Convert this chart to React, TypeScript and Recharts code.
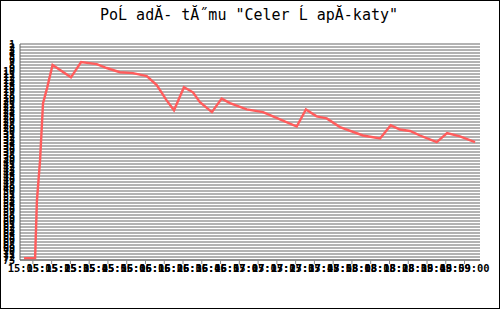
import React from "react";
import { LineChart, Line, XAxis, YAxis, CartesianGrid } from "recharts";

const title = 'PoĹ adĂ- tĂ˝mu "Celer Ĺ apĂ-katy"';

const tickLabels = [
  "15:05:15", "15:05:25", "15:05:35", "15:05:45", "15:05:55", "15:06:06",
  "15:06:16", "15:06:26", "15:06:36", "15:06:46", "15:06:57", "15:07:07",
  "15:07:17", "15:07:27", "15:07:37", "15:07:48", "15:07:58", "15:08:08",
  "15:08:18", "15:08:28", "15:08:39", "15:08:49", "15:08:59", "15:09:00",
];
const tickStart = 15;
const tickStep = 10.2;

// seconds after 15:05:00
const times = [
  10.2, 15.6, 16.2, 17.2, 18.9, 20.5, 22.7, 25.7, 35.7, 41.2, 49.7, 55.1, 62.3,
  69.4, 76.9, 82.3, 87.7, 91.7, 97.1, 102.0, 105.8, 112.3, 117.6, 122.1, 131.2,
  140.1, 149.3, 158.4, 163.4, 169.2, 174.7, 181.9, 194.4, 203.7, 209.5, 214.5,
  220.0, 225.4, 234.5, 240.1, 247.1, 255.3,
];
const ranks = [
  72.4, 72.4, 72.4, 53.2, 39.8, 20.8, 15.7, 8.0, 12.1, 7.0, 7.7, 9.0, 10.4,
  10.7, 11.7, 14.7, 19.8, 23.1, 15.4, 17.1, 20.4, 23.7, 19.2, 20.7, 22.8,
  23.7, 26.1, 28.5, 22.8, 25.1, 25.8, 28.7, 31.5, 32.5, 28.1, 29.5,
  30.0, 31.5, 33.7, 30.7, 31.8, 33.7,
];

const rankTicks = [
  1, 2, 3, 4, 5, 6, 7, 8, 9, 10, 11, 12, 13, 14, 15, 16, 17, 18, 19, 20, 21, 22,
  23, 24, 25, 26, 27, 28, 29, 30, 31, 32, 33, 34, 35, 36, 37, 38, 39, 40, 41, 42,
  43, 44, 45, 46, 47, 48, 49, 50, 51, 52, 53, 54, 55, 56, 57, 58, 59, 60, 61, 62,
  63, 64, 65, 66, 67, 68, 69, 70, 71, 72, 73,
];

const data = times.map((t, i) => ({ t, rank: ranks[i] }));
const xTicks = tickLabels.map((_, i) => tickStart + i * tickStep);

const mono = "'DejaVu Sans Mono', 'Liberation Mono', monospace";

const XTick = (props: any) => {
  const { x, payload } = props;
  const idx = Math.round((payload.value - tickStart) / tickStep);
  return (
    <text x={x} y={272} textAnchor="middle" fontFamily={mono} fontSize={10.43} fontWeight="bold" fill="#000">
      {tickLabels[idx]}
    </text>
  );
};

const YTick = (props: any) => {
  const { y, payload } = props;
  return (
    <text x={15} y={y + 4} textAnchor="end" fontFamily={mono} fontSize={10} fontWeight="bold" fill="#000">
      {payload.value}
    </text>
  );
};

export default function App() {
  return (
    <div style={{ position: "fixed", left: 0, top: 0, width: 500, height: 309, background: "#fff" }}>
      <LineChart width={500} height={309} data={data} margin={{ top: 44, right: 20, bottom: 29, left: 0 }}>
        <CartesianGrid horizontal={true} vertical={false} stroke="#666" strokeOpacity={1} />
        <XAxis
          type="number"
          dataKey="t"
          domain={[8, 258]}
          ticks={xTicks}
          interval={0}
          height={20}
          tick={<XTick />}
          tickSize={4}
          tickLine={{ stroke: "#888" }}
          axisLine={{ stroke: "#666" }}
          allowDataOverflow
        />
        <YAxis
          type="number"
          domain={[1, 73]}
          reversed
          ticks={rankTicks}
          interval={0}
          width={20}
          tick={<YTick />}
          tickLine={false}
          axisLine={{ stroke: "#666" }}
          allowDataOverflow
        />
        <Line
          type="linear"
          dataKey="rank"
          stroke="#ff5c5c"
          strokeWidth={2.4}
          dot={false}
          isAnimationActive={false}
        />
      </LineChart>
      <div
        style={{
          position: "absolute",
          left: 0,
          top: 6,
          width: 498,
          textAlign: "center",
          fontFamily: mono,
          fontSize: 15,
          lineHeight: "18px",
          color: "#000",
          whiteSpace: "pre",
        }}
      >
        {title}
      </div>
      <div
        style={{
          position: "absolute",
          left: 0,
          top: 0,
          width: 500,
          height: 309,
          boxSizing: "border-box",
          border: "1px solid #000",
          pointerEvents: "none",
        }}
      />
    </div>
  );
}
